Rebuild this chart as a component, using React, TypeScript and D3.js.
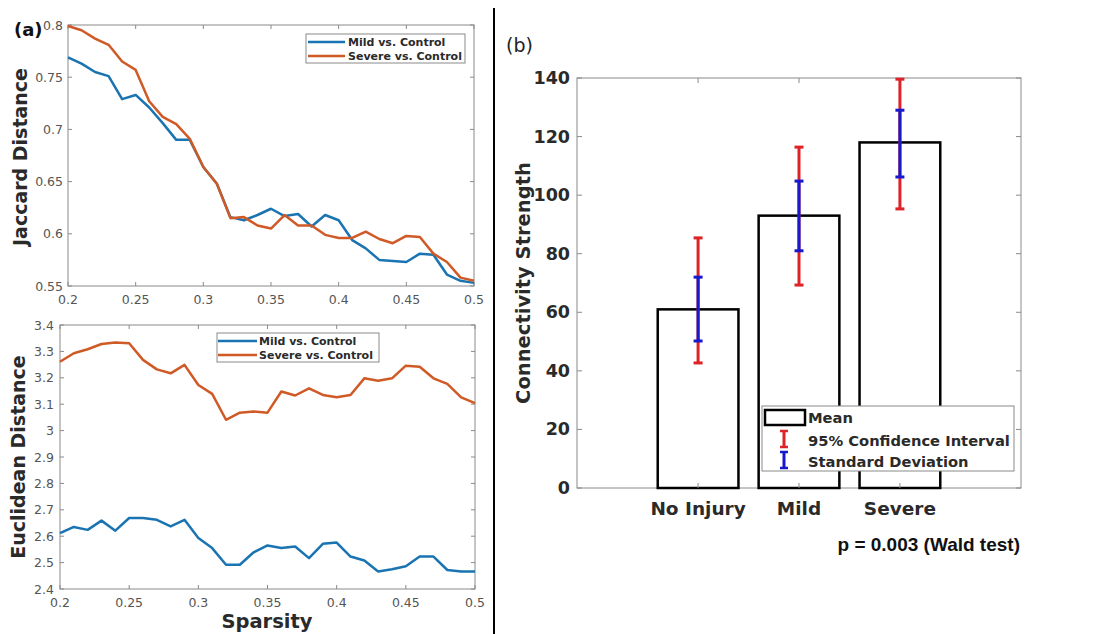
import React from "react";
import * as d3 from "d3";

// ---------- data ----------
const sparsity = [0.2,0.21,0.22,0.23,0.24,0.25,0.26,0.27,0.28,0.29,0.3,0.31,0.32,0.33,0.34,0.35,0.36,0.37,0.38,0.39,0.4,0.41,0.42,0.43,0.44,0.45,0.46,0.47,0.48,0.49,0.5];

const jaccardMild = [0.769,0.763,0.755,0.751,0.729,0.733,0.721,0.706,0.690,0.690,0.664,0.648,0.616,0.613,0.618,0.624,0.617,0.619,0.607,0.618,0.613,0.594,0.586,0.575,0.574,0.573,0.581,0.580,0.561,0.555,0.553];
const jaccardSevere = [0.799,0.795,0.787,0.781,0.765,0.757,0.727,0.712,0.705,0.691,0.664,0.648,0.615,0.616,0.608,0.605,0.618,0.608,0.608,0.599,0.596,0.596,0.602,0.595,0.591,0.598,0.597,0.581,0.573,0.558,0.555];

const euclidMild = [2.612,2.635,2.624,2.659,2.621,2.669,2.669,2.662,2.637,2.662,2.593,2.555,2.492,2.492,2.539,2.565,2.555,2.561,2.517,2.571,2.576,2.523,2.508,2.466,2.475,2.486,2.523,2.523,2.472,2.466,2.466];
const euclidSevere = [3.261,3.293,3.308,3.328,3.334,3.331,3.268,3.232,3.217,3.249,3.173,3.139,3.041,3.068,3.072,3.068,3.148,3.133,3.160,3.135,3.126,3.135,3.198,3.189,3.198,3.246,3.242,3.198,3.177,3.126,3.104];

const sparsityTicks = [0.2,0.25,0.3,0.35,0.4,0.45,0.5];
const sparsityTickLabels = ["0.2","0.25","0.3","0.35","0.4","0.45","0.5"];
const jaccardTicks = [0.55,0.6,0.65,0.7,0.75,0.8];
const jaccardTickLabels = ["0.55","0.6","0.65","0.7","0.75","0.8"];
const euclidTicks = [2.4,2.5,2.6,2.7,2.8,2.9,3.0,3.1,3.2,3.3,3.4];
const euclidTickLabels = ["2.4","2.5","2.6","2.7","2.8","2.9","3","3.1","3.2","3.3","3.4"];
const seriesNames = ["Mild vs. Control","Severe vs. Control"];

const groups = ["No Injury","Mild","Severe"];
const groupMean = [61,93,118];
const ciLow = [42.7,69.3,95.3];
const ciHigh = [85.4,116.4,139.6];
const sdLow = [50.2,81,106.2];
const sdHigh = [72,104.8,129];
const strengthTicks = [0,20,40,60,80,100,120,140];
const legendB = ["Mean","95% Confidence Interval","Standard Deviation"];

// ---------- styles ----------
const BLUE = "#1a74b2";
const ORANGE = "#d05a26";
const AXIS = "#8a8a8a";
const TICKTXT = "#555";
const TITLE = "#2a2a2a";
const RED = "#dd2228";
const DBLUE = "#1818cc";
const SANS = "'DejaVu Sans', sans-serif";
const DJ = "'DejaVu Sans', sans-serif";

type LP = {
  left: number; right: number; top: number; bottom: number;
  ydom: [number, number]; yt: number[]; ytl: string[];
  a: number[]; b: number[];
  legend: { x0: number; x1: number; y0: number; y1: number; sw0: number; sw1: number; tx: number };
  ylabelGap: number;
};

function LinePanel(p: LP) {
  const x = d3.scaleLinear().domain([0.2, 0.5]).range([p.left, p.right]);
  const y = d3.scaleLinear().domain(p.ydom).range([p.bottom, p.top]);
  const line = d3.line<number>().x((_, i) => x(sparsity[i])).y((d) => y(d));
  const tl = 4;
  const rowY = [p.legend.y0 + 8, p.legend.y0 + 22];
  return (
    <g>
      <rect x={p.left} y={p.top} width={p.right - p.left} height={p.bottom - p.top} fill="white" stroke={AXIS} strokeWidth={1} />
      {sparsityTicks.map((t, i) => (
        <g key={"x" + i}>
          <line x1={x(t)} x2={x(t)} y1={p.bottom} y2={p.bottom - tl} stroke={AXIS} />
          <line x1={x(t)} x2={x(t)} y1={p.top} y2={p.top + tl} stroke={AXIS} />
          <text x={x(t)} y={p.bottom + 13} textAnchor="middle" dominantBaseline="central" fontFamily={DJ} fontSize={12.5} fill={TICKTXT}>{sparsityTickLabels[i]}</text>
        </g>
      ))}
      {p.yt.map((t, i) => (
        <g key={"y" + i}>
          <line x1={p.left} x2={p.left + tl} y1={y(t)} y2={y(t)} stroke={AXIS} />
          <line x1={p.right} x2={p.right - tl} y1={y(t)} y2={y(t)} stroke={AXIS} />
          <text x={p.left - p.ylabelGap} y={y(t)} textAnchor="end" dominantBaseline="central" fontFamily={DJ} fontSize={12.5} fill={TICKTXT}>{p.ytl[i]}</text>
        </g>
      ))}
      <path d={line(p.a) || ""} fill="none" stroke={BLUE} strokeWidth={2.5} strokeLinejoin="round" />
      <path d={line(p.b) || ""} fill="none" stroke={ORANGE} strokeWidth={2.5} strokeLinejoin="round" />
      <rect x={p.legend.x0} y={p.legend.y0} width={p.legend.x1 - p.legend.x0} height={p.legend.y1 - p.legend.y0} fill="white" stroke={AXIS} strokeWidth={1} />
      {seriesNames.map((n, i) => (
        <g key={"l" + i}>
          <line x1={p.legend.sw0} x2={p.legend.sw1} y1={rowY[i]} y2={rowY[i]} stroke={i === 0 ? BLUE : ORANGE} strokeWidth={2.5} />
          <text x={p.legend.tx} y={rowY[i]} dominantBaseline="central" fontFamily={SANS} fontWeight={700} fontSize={11} fill={TITLE}>{n}</text>
        </g>
      ))}
    </g>
  );
}

function BarPanel() {
  const left = 577, right = 1021, top = 78, bottom = 488;
  const x = d3.scaleLinear().domain([-0.2, 4.2]).range([left, right]);
  const y = d3.scaleLinear().domain([0, 140]).range([bottom, top]);
  const bw = x(0.8) - x(0);
  const tl = 5;
  const cap = 4.5;
  const cats = groups.map((_, i) => i + 1);
  const lg = { x0: 762, x1: 1014, y0: 406, y1: 471 };
  const rows = [417, 440, 461];
  return (
    <g>
      <rect x={left} y={top} width={right - left} height={bottom - top} fill="white" stroke={AXIS} strokeWidth={1} />
      {strengthTicks.map((t, i) => (
        <g key={"y" + i}>
          <line x1={left} x2={left + tl} y1={y(t)} y2={y(t)} stroke={AXIS} />
          <line x1={right} x2={right - tl} y1={y(t)} y2={y(t)} stroke={AXIS} />
          <text x={570} y={y(t)} textAnchor="end" dominantBaseline="central" fontFamily={SANS} fontWeight={700} fontSize={17.5} fill={TITLE}>{t}</text>
        </g>
      ))}
      {cats.map((c, i) => (
        <g key={"b" + i}>
          <rect x={x(c) - bw / 2} y={y(groupMean[i])} width={bw} height={y(0) - y(groupMean[i])} fill="white" stroke="#000" strokeWidth={2.5} />
          <line x1={x(c)} x2={x(c)} y1={bottom} y2={bottom - tl} stroke={AXIS} />
          <line x1={x(c)} x2={x(c)} y1={top} y2={top + tl} stroke={AXIS} />
          <text x={x(c)} y={508} textAnchor="middle" dominantBaseline="central" fontFamily={SANS} fontWeight={700} fontSize={18.5} fill={TITLE}>{groups[i]}</text>
        </g>
      ))}
      {cats.map((c, i) => (
        <g key={"e" + i}>
          <line x1={x(c)} x2={x(c)} y1={y(ciLow[i])} y2={y(ciHigh[i])} stroke={RED} strokeWidth={3} />
          <line x1={x(c) - cap} x2={x(c) + cap} y1={y(ciLow[i])} y2={y(ciLow[i])} stroke={RED} strokeWidth={3} />
          <line x1={x(c) - cap} x2={x(c) + cap} y1={y(ciHigh[i])} y2={y(ciHigh[i])} stroke={RED} strokeWidth={3} />
          <line x1={x(c)} x2={x(c)} y1={y(sdLow[i])} y2={y(sdHigh[i])} stroke={DBLUE} strokeWidth={3} />
          <line x1={x(c) - cap} x2={x(c) + cap} y1={y(sdLow[i])} y2={y(sdLow[i])} stroke={DBLUE} strokeWidth={3} />
          <line x1={x(c) - cap} x2={x(c) + cap} y1={y(sdHigh[i])} y2={y(sdHigh[i])} stroke={DBLUE} strokeWidth={3} />
        </g>
      ))}
      <rect x={lg.x0} y={lg.y0} width={lg.x1 - lg.x0} height={lg.y1 - lg.y0} fill="white" stroke={AXIS} strokeWidth={1} />
      <rect x={765} y={410} width={40} height={15} fill="white" stroke="#000" strokeWidth={2.5} />
      {[{ c: RED, y0: 431, y1: 447 }, { c: DBLUE, y0: 452, y1: 468 }].map((e, i) => (
        <g key={"li" + i}>
          <line x1={784} x2={784} y1={e.y0} y2={e.y1} stroke={e.c} strokeWidth={3} />
          <line x1={780} x2={788} y1={e.y0} y2={e.y0} stroke={e.c} strokeWidth={2.5} />
          <line x1={780} x2={788} y1={e.y1} y2={e.y1} stroke={e.c} strokeWidth={2.5} />
        </g>
      ))}
      {legendB.map((t, i) => (
        <text key={"lt" + i} x={808} y={rows[i]} dominantBaseline="central" fontFamily={SANS} fontWeight={700} fontSize={14.7} fill={TITLE}>{t}</text>
      ))}
      <text x={523} y={283} transform="rotate(-90 523 283)" textAnchor="middle" dominantBaseline="central" fontFamily={SANS} fontWeight={700} fontSize={19.5} fill={TITLE}>Connectivity Strength</text>
      <text x={506} y={45} dominantBaseline="central" fontFamily={SANS} fontWeight={400} fontSize={19} fill="#222">(b)</text>
      <text x={1020} y={544} textAnchor="end" dominantBaseline="central" fontFamily="'Liberation Sans', Arial, sans-serif" fontWeight={700} fontSize={19} fill="#111">p = 0.003 (Wald test)</text>
    </g>
  );
}

export default function App() {
  return (
    <svg width={1111} height={634} style={{ position: "absolute", left: 0, top: 0, background: "white" }}>
      <rect x={0} y={0} width={1111} height={634} fill="white" />
      <LinePanel left={68} right={474} top={25} bottom={286} ydom={[0.55, 0.8]} yt={jaccardTicks} ytl={jaccardTickLabels}
        a={jaccardMild} b={jaccardSevere} ylabelGap={5}
        legend={{ x0: 306, x1: 465, y0: 34, y1: 63, sw0: 308, sw1: 345, tx: 348 }} />
      <LinePanel left={60} right={475} top={325} bottom={589} ydom={[2.4, 3.4]} yt={euclidTicks} ytl={euclidTickLabels}
        a={euclidMild} b={euclidSevere} ylabelGap={6}
        legend={{ x0: 217, x1: 379, y0: 333, y1: 362, sw0: 218, sw1: 257, tx: 259 }} />
      <text x={20} y={157} transform="rotate(-90 20 157)" textAnchor="middle" dominantBaseline="central" fontFamily={SANS} fontWeight={700} fontSize={19} fill={TITLE}>Jaccard Distance</text>
      <text x={18} y={457} transform="rotate(-90 18 457)" textAnchor="middle" dominantBaseline="central" fontFamily={SANS} fontWeight={700} fontSize={19} fill={TITLE}>Euclidean Distance</text>
      <text x={267} y={621} textAnchor="middle" dominantBaseline="central" fontFamily={SANS} fontWeight={700} fontSize={19.5} fill={TITLE}>Sparsity</text>
      <text x={14} y={29} dominantBaseline="central" fontFamily={SANS} fontWeight={700} fontSize={18} fill="#111">(a)</text>
      <line x1={494} x2={494} y1={8} y2={634} stroke="#000" strokeWidth={2} />
      <BarPanel />
    </svg>
  );
}
